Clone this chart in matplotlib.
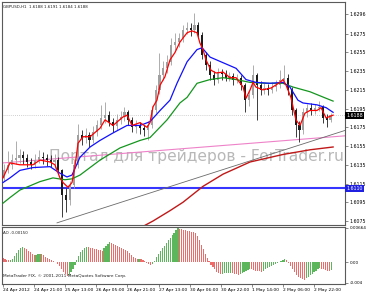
"""
GBPUSD H1 chart with moving averages, trend lines and the Awesome Oscillator,
drawn in the look of a MetaTrader 4 screenshot.
"""

import matplotlib
matplotlib.use("Agg")
import matplotlib.pyplot as plt
import numpy as np

# ── Data ───────────────────────────────────────────────────────────────────────
BASE = 1.6      # prices below are stored as pips above 1.6000
PIP = 1e-4

# 2-hour candles (pips above 1.6000)
candle_open = [121, 129, 135, 140, 142, 145, 142, 138, 135, 140,
               143, 142, 140, 138, 140, 129, 103, 97, 113, 135,
               167, 164, 167, 161, 170, 177, 185, 188, 181, 176,
               183, 186, 191, 183, 175, 177, 174, 172, 177, 193,
               215, 231, 238, 245, 263, 266, 270, 279, 281, 279,
               284, 274, 252, 242, 231, 226, 234, 232, 228, 230,
               226, 228, 220, 204, 209, 231, 220, 215, 217, 215,
               218, 220, 226, 228, 215, 193, 177, 172, 191, 196,
               193, 196, 197, 185, 183]
candle_close = [129, 135, 140, 142, 145, 142, 138, 135, 140, 143,
                142, 140, 138, 140, 129, 103, 97, 113, 135, 167,
                164, 167, 161, 170, 177, 185, 188, 181, 176, 183,
                186, 191, 183, 175, 177, 174, 172, 177, 193, 215,
                231, 238, 245, 263, 266, 270, 279, 281, 279, 284,
                274, 252, 242, 231, 226, 234, 232, 228, 230, 226,
                228, 220, 204, 209, 231, 220, 215, 217, 215, 218,
                220, 226, 228, 215, 193, 177, 172, 191, 196, 193,
                196, 197, 185, 183, 188]
candle_high = [136, 150, 146, 160, 152, 150, 147, 142, 146, 151,
               149, 147, 145, 146, 143, 131, 110, 118, 140, 179,
               172, 174, 170, 176, 183, 199, 202, 192, 185, 189,
               192, 197, 194, 186, 183, 181, 178, 182, 198, 220,
               254, 246, 252, 270, 276, 276, 284, 287, 286, 297,
               288, 277, 255, 246, 235, 238, 237, 236, 234, 233,
               232, 231, 222, 214, 242, 233, 224, 222, 221, 223,
               226, 236, 242, 232, 218, 196, 182, 196, 200, 201,
               200, 203, 199, 189, 190]
candle_low = [118, 126, 131, 136, 137, 136, 133, 130, 132, 137,
              136, 134, 133, 132, 125, 79, 85, 92, 110, 132,
              156, 158, 154, 158, 166, 173, 180, 176, 170, 172,
              179, 182, 178, 170, 169, 168, 166, 161, 174, 190,
              211, 226, 233, 242, 258, 261, 266, 275, 273, 276,
              270, 248, 236, 226, 220, 222, 226, 224, 224, 220,
              222, 215, 191, 198, 206, 183, 210, 211, 210, 212,
              214, 217, 222, 210, 188, 165, 159, 168, 186, 188,
              189, 192, 180, 175, 181]

# moving averages (hourly bar index, pips)
fast_ma_bar = [0, 3.6, 8.7, 15.4, 19, 24.2, 26.7, 29.3, 30.9, 33.4, 35.5, 37,
               38.6, 41.2, 44.8, 49.9, 52.5, 56.6, 61.7, 63.8, 66.4, 70.5,
               74.1, 75.6, 77.2, 79.2, 80.8, 83.3, 85.9, 88.5, 91, 94.7, 97.2,
               99.8, 101.3, 102.9, 104.4, 107, 109.6, 113.2, 116.8, 119.9,
               123.5, 125, 127.1, 128.6, 130.1, 133.7, 137.9, 142.5, 144,
               145.6, 148.1, 150.7, 152.8, 155.3, 157.9, 161.5, 163.6, 166.2,
               169.8]
fast_ma_val = [121, 137, 135, 135, 140, 138, 135, 121, 116, 111, 116, 133,
               158, 165, 165, 174, 183, 177, 186, 188, 177, 180,
               175, 180, 197, 204, 220, 229, 247, 255, 266, 276, 278,
               276, 265, 258, 247, 236, 233, 234, 228, 228,
               218, 206, 215, 223, 218, 215, 217, 223, 226,
               220, 207, 183, 177, 190, 193, 193, 196, 185,
               188]

mid_ma_bar = [0, 3.6, 8.7, 15.4, 24.2, 29.3, 32.9, 35.5, 39.6, 44.8, 49.9,
              56.6, 63.8, 70.5, 75.6, 80.8, 85.9, 89.5, 94.7, 99.8, 102.4,
              106.5, 113.2, 119.9, 125, 130.1, 137.3, 144, 147.6, 151.7,
              154.3, 161.5, 166.2, 169.8]
mid_ma_val = [116, 121, 129, 132, 133, 126, 122, 124, 143, 154, 161,
              169, 177, 177, 181, 193, 204, 222, 245, 258, 260,
              250, 244, 238, 226, 223, 222, 223, 218, 204,
              201, 199, 196, 191]

slow_ma_bar = [0, 3.6, 8.7, 19, 25.7, 31.9, 35.5, 39.6, 49.9, 60.2, 70.5,
               75.6, 84.4, 91, 94.7, 99.8, 106.5, 113.2, 119.9, 127.1, 135.3,
               144, 149.2, 157.9, 166.2, 169.8]
slow_ma_val = [94, 100, 108, 117, 121, 119, 120, 124, 140, 153, 161,
               164, 183, 201, 207, 222, 226, 228, 226, 223, 222,
               222, 218, 213, 206, 203]

long_ma_bar = [60.2, 70.5, 77.2, 85.9, 92.6, 102.9, 113.2, 127.1, 144, 157.9, 169.8]
long_ma_val = [57, 67.5, 75, 86, 95, 112, 125, 138, 146, 151, 154]

trend_bar = [27.8, 176.4]
trend_val = [73, 172]
channel_bar = [0, 176.4]
channel_val = [137, 166]

support_level = 1.6110
last_price = 1.6188

# Awesome Oscillator, one value per hourly bar (units of 1e-5)
ao_vals = [80, 60, 50, 40, 50, 70,
           120, 180, 230, 280,
           290, 270, 250, 220, 190,
           150, 130, 140, 150, 160, 150,
           130, 110, 90, 70, 50, 30, 10,
           -30, -80, -130, -180, -230, -260, -240, -190, -130, -60,
           40, 120, 190, 240, 280, 300,
           290, 280, 270, 260, 250, 240, 230, 220,
           270, 320, 360, 390,
           380, 360, 340, 320, 300, 280, 260, 240, 210, 180, 140, 110,
           80, 60, 70, 60, 50, 30,
           -20, -40, -50, -30,
           30, 100, 160, 220, 270, 320, 370, 420, 470, 520, 570, 620, 664,
           650, 640, 630, 620, 610, 600, 590, 580, 560,
           500, 420, 330, 250, 160, 80, 20,
           -50, -100, -140, -180, -210, -230,
           -220, -215, -210, -205, -200,
           -210, -220, -230, -240,
           -230, -210, -190, -170, -150, -130,
           -140, -150, -160, -170, -175, -180,
           -160, -140, -120, -100, -80, -60, -40, -20, 10,
           30, 50, 60,
           40, -10, -70, -130, -190, -240, -280, -310, -330, -340,
           -310, -280, -250, -220, -190, -160, -140, -120,
           -130, -140, -150, -160, -170,
           -150]

price_ticks = [1.6296, 1.6275, 1.6255, 1.6235, 1.6215, 1.6195,
               1.6175, 1.6155, 1.6135, 1.6115, 1.6095, 1.6075]
ao_ticks = [0.00664, 0.0, -0.004]
ao_tick_labels = ["0.00664", "0.00", "-0.004"]
date_ticks = [0, 16, 32, 48, 64, 80, 96, 112, 128, 144, 160]
date_labels = ["24 Apr 2012", "24 Apr 21:00", "25 Apr 13:00", "26 Apr 05:00",
               "26 Apr 21:00", "27 Apr 13:00", "30 Apr 06:00", "30 Apr 22:00",
               "1 May 14:00", "2 May 06:00", "2 May 22:00"]

# ── Style ──────────────────────────────────────────────────────────────────────
BULL = "#a0a0a0"
BEAR = "#1c1c1c"
FRAME = "#5a5a5a"
plt.rcParams["font.family"] = "DejaVu Sans"


def px(vals):
    return BASE + np.asarray(vals, dtype=float) * PIP


fig = plt.figure(figsize=(3.66, 2.93), dpi=100)
fig.patch.set_facecolor("white")
ax = fig.add_axes([0.0055, 0.2321, 0.937, 0.761])
ao = fig.add_axes([0.0055, 0.0307, 0.937, 0.1946], sharex=ax)

# ── Price panel ────────────────────────────────────────────────────────────────
o, h, l, c = px(candle_open), px(candle_high), px(candle_low), px(candle_close)
xc = np.arange(len(o)) * 2 + 0.5
cols = [BULL if cc >= oo else BEAR for oo, cc in zip(o, c)]
ax.vlines(xc, l, h, colors=cols, lw=0.6, zorder=3)
ax.bar(xc, np.abs(c - o), bottom=np.minimum(o, c), width=1.1,
       color=cols, edgecolor="none", zorder=3)

ax.text(0.567, 0.309, "Портал для трейдеров - ForTrader.ru", transform=ax.transAxes,
        ha="center", va="center", fontsize=11.2, color="#b8b8b8", zorder=1)

ax.axhline(support_level, color="#3535ff", lw=1.5, zorder=2)
ax.axhline(last_price, color="#c0c0c0", lw=0.6, ls=(0, (1, 1.5)), zorder=2)
ax.plot(channel_bar, px(channel_val), color="#ee82c8", lw=0.8, zorder=2)
ax.plot(trend_bar, px(trend_val), color="#6a6a6a", lw=0.6, zorder=2)
ax.plot(long_ma_bar, px(long_ma_val), color="#c01818", lw=1.0, zorder=4)
ax.plot(slow_ma_bar, px(slow_ma_val), color="#14961e", lw=0.9, zorder=4)
ax.plot(mid_ma_bar, px(mid_ma_val), color="#1010ff", lw=0.9, zorder=4)
ax.plot(fast_ma_bar, px(fast_ma_val), color="#ff0000", lw=0.9, zorder=5)

ax.set_xlim(-0.5, 175.9)
ax.set_ylim(1.60707, 1.63088)
ax.yaxis.tick_right()
ax.set_yticks(price_ticks)
ax.set_yticklabels([f"{t:.4f}" for t in price_ticks])
ax.tick_params(axis="y", length=2, width=0.5, color=FRAME, labelsize=3.4, pad=1.5)
ax.tick_params(axis="x", bottom=False, labelbottom=False)

ytrans = ax.get_yaxis_transform()
ax.text(1.004, last_price, f"{last_price:.4f}", transform=ytrans, ha="left", va="center",
        fontsize=3.4, color="white", clip_on=False, zorder=6,
        bbox=dict(boxstyle="square,pad=0.2", fc="black", ec="none"))
ax.text(1.004, support_level, f"{support_level:.4f}", transform=ytrans, ha="left", va="center",
        fontsize=3.4, color="white", clip_on=False, zorder=6,
        bbox=dict(boxstyle="square,pad=0.2", fc="#2020e0", ec="none"))

ax.text(0.004, 0.985, "GBPUSD,H1  1.6188 1.6191 1.6184 1.6188", transform=ax.transAxes,
        ha="left", va="top", fontsize=2.9, color="#202020")

# ── Awesome Oscillator panel ───────────────────────────────────────────────────
ao_arr = np.asarray(ao_vals, dtype=float) * 1e-5
ao_cols = ["#5cb65c" if i > 0 and ao_arr[i] > ao_arr[i - 1] else "#f06a6a"
           for i in range(len(ao_arr))]
ao.bar(np.arange(len(ao_arr)), ao_arr, width=0.6, color=ao_cols, edgecolor="none")
ao.set_ylim(-0.0042, 0.0068)
ao.yaxis.tick_right()
ao.set_yticks(ao_ticks)
ao.set_yticklabels(ao_tick_labels)
ao.tick_params(axis="y", length=2, width=0.5, color=FRAME, labelsize=3.0, pad=1.2)
ao.set_xticks(date_ticks)
ao.set_xticklabels(date_labels, ha="left")
ao.tick_params(axis="x", length=2, width=0.5, color=FRAME, labelsize=3.2, pad=1)

ao.text(0.004, 0.93, "AO -0.00150", transform=ao.transAxes,
        ha="left", va="top", fontsize=2.9, color="#202020")
ao.text(0.004, 0.1, "MetaTrader FIX, © 2001-2011 MetaQuotes Software Corp.",
        transform=ao.transAxes, ha="left", va="bottom", fontsize=3.1, color="#202020")

for a in (ax, ao):
    a.set_facecolor("white")
    for sp in a.spines.values():
        sp.set_color(FRAME)
        sp.set_linewidth(0.8)

fig.savefig("out.png", dpi=100, facecolor="white")
